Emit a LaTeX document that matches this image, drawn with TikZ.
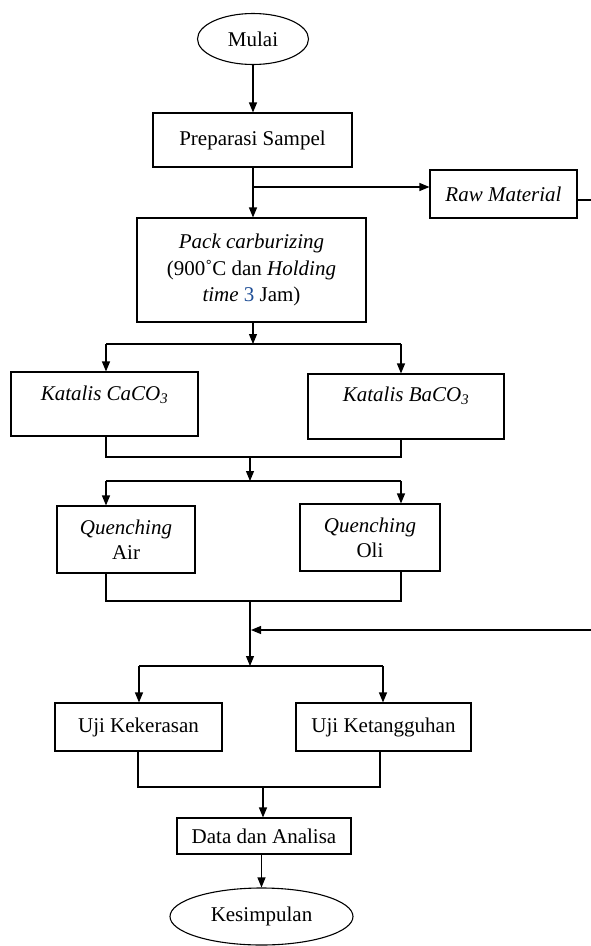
\documentclass[tikz,border=0pt]{standalone}
\usepackage{fontspec}
\setmainfont{Liberation Serif}
\usetikzlibrary{arrows.meta,shapes.geometric}
\definecolor{numblue}{RGB}{31,78,150}
\begin{document}
\begin{tikzpicture}[x=1pt,y=-1pt, line width=1.1pt,
  every node/.style={font=\fontsize{21}{25}\selectfont, inner sep=0pt},
  box/.style={draw, rectangle, align=center},
  oval/.style={draw, ellipse},
  arr/.style={-{Triangle[length=10pt,width=8pt]}}]
\useasboundingbox (0,0) rectangle (591,946);
\clip (0,0) rectangle (591,946);

% nodes
\node[oval, minimum width=111pt, minimum height=51pt] (mulai) at (253,39) {Mulai};
\node[box, minimum width=199pt, minimum height=54pt] (prep) at (252.5,140) {Preparasi Sampel};
\node[box, minimum width=147pt, minimum height=48pt] (raw) at (503.5,194) {\textit{Raw Material}};
\node[box, minimum width=229pt, minimum height=104pt, font=\fontsize{21}{26.5}\selectfont] (pack) at (251.5,270)
  {\textit{Pack carburizing}\\(900˚C dan \textit{Holding}\\\textit{time} {\color{numblue}3} Jam)};
\node[box, minimum width=187pt, minimum height=64pt] (caco) at (104.5,404) {};
\node[anchor=base] (cacot) at (104.5,400) {\textit{Katalis CaCO\textsubscript{3}}};
\node[box, minimum width=196pt, minimum height=65pt] (baco) at (406,406.5) {};
\node[anchor=base] (bacot) at (406,401) {\textit{Katalis BaCO\textsubscript{3}}};
\node[box, minimum width=138pt, minimum height=67pt] (qair) at (126,539.5) {\textit{Quenching}\\Air};
\node[box, minimum width=140pt, minimum height=67pt] (qoli) at (370,537.5) {\textit{Quenching}\\Oli};
\node[box, minimum width=167pt, minimum height=48pt] (ukeras) at (138.5,727) {Uji Kekerasan};
\node[box, minimum width=175pt, minimum height=48pt] (utang) at (383.5,727) {Uji Ketangguhan};
\node[box, minimum width=174pt, minimum height=36pt] (data) at (264,836) {Data dan Analisa};
\node[oval, minimum width=183pt, minimum height=57pt] (kes) at (261.5,916.5) {Kesimpulan};

% junction coordinates
\coordinate (j1) at (253,187);
\coordinate (a1) at (253,344);
\coordinate (a1l) at (106,344);
\coordinate (a1r) at (401,344);
\coordinate (b1) at (250,457);
\coordinate (b1l) at (106,457);
\coordinate (b1r) at (401,457);
\coordinate (b2) at (250,481);
\coordinate (b2l) at (106,481);
\coordinate (b2r) at (401,481);
\coordinate (c1) at (250,601);
\coordinate (c1l) at (106,601);
\coordinate (c1r) at (401,601);
\coordinate (c2) at (250,666);
\coordinate (c2l) at (139,666);
\coordinate (c2r) at (383,666);
\coordinate (d1) at (263,787);
\coordinate (d1l) at (138,787);
\coordinate (d1r) at (380,787);
\coordinate (fb1) at (598,200);
\coordinate (fb2) at (598,630);
\coordinate (fb3) at (251,630);

% connectors
\draw[arr] (mulai.south) -- (mulai.south |- prep.north);
\draw[arr] (mulai.south |- prep.south) -- (mulai.south |- pack.north);
\draw[arr] (j1) -- (j1 -| raw.west);
\draw[arr] (raw.east |- fb1) -- (fb1) -- (fb2) -- (fb3);

\draw[arr] (a1 |- pack.south) -- (a1);
\draw (a1l) -- (a1r);
\draw[arr] (a1l) -- (a1l |- caco.north);
\draw[arr] (a1r) -- (a1r |- baco.north);

\draw (b1l |- caco.south) -- (b1l) -- (b1r) -- (b1r |- baco.south);
\draw[arr] (b1) -- (b2);
\draw (b2l) -- (b2r);
\draw[arr] (b2l) -- (b2l |- qair.north);
\draw[arr] (b2r) -- (b2r |- qoli.north);

\draw (c1l |- qair.south) -- (c1l) -- (c1r) -- (c1r |- qoli.south);
\draw[arr] (c1) -- (c2);
\draw (c2l) -- (c2r);
\draw[arr] (c2l) -- (c2l |- ukeras.north);
\draw[arr] (c2r) -- (c2r |- utang.north);

\draw (d1l |- ukeras.south) -- (d1l) -- (d1r) -- (d1r |- utang.south);
\draw[arr] (d1) -- (d1 |- data.north);
\draw[arr] (kes.north |- data.south) -- (kes.north);
\end{tikzpicture}
\end{document}
